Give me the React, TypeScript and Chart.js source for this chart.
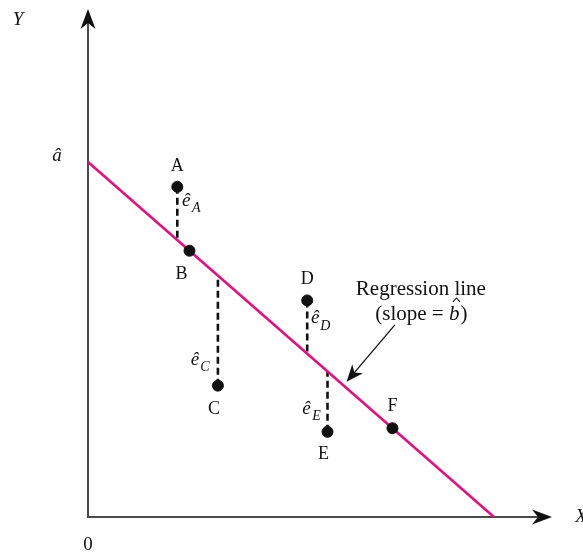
import React, { useEffect, useRef } from "react";
import { Chart, registerables } from "chart.js";

Chart.register(...registerables);

// ---- data ----
const pointNames = ["A", "B", "C", "D", "E", "F"];
const xValues = [2.2, 2.5, 3.2, 5.4, 5.9, 7.5];
const yValues = [9.3, 7.5, 3.7, 6.1, 2.4, 2.5];
const interceptA = 10; // â
const slopeB = -1; // b̂
const lineX = [0, 10];
const residualPoints = ["A", "C", "D", "E"];
const xAxisMax = 11.43;
const yAxisMax = 14.28;

// ---- styles / label placement (pixels) ----
const MAGENTA = "#e5107e";
const AXIS = "#4a4a4a";
const SERIF = "'Liberation Serif', 'Times New Roman', serif";
const nameOffsets: Record<string, [number, number]> = {
  A: [0, -21],
  B: [-8, 24],
  C: [-4, 24],
  D: [0, -21],
  E: [-4, 22],
  F: [0, -22],
};
const residOffsets: Record<string, [number, number]> = {
  A: [9, 14],
  C: [-23, -26],
  D: [8, 18],
  E: [-21, -23],
};
// annotation in data units
const annTextX = 8.2;
const annLine1Y = 6.42;
const annLine2Y = 5.69;
const annTail = { x: 7.56, y: 5.41 };
const annTip = { x: 6.37, y: 3.81 };

function fitted(x: number) {
  return interceptA + slopeB * x;
}

function drawArrowHead(
  ctx: CanvasRenderingContext2D,
  tx: number,
  ty: number,
  angle: number,
  len: number,
  half: number,
  notch: number
) {
  ctx.save();
  ctx.translate(tx, ty);
  ctx.rotate(angle);
  ctx.beginPath();
  ctx.moveTo(0, 0);
  ctx.lineTo(-len, -half);
  ctx.lineTo(-len + notch, 0);
  ctx.lineTo(-len, half);
  ctx.closePath();
  ctx.fill();
  ctx.restore();
}

const diagramPlugin = {
  id: "diagram",
  beforeDatasetsDraw(chart: any) {
    const ctx: CanvasRenderingContext2D = chart.ctx;
    const xs = chart.scales.x;
    const ys = chart.scales.y;
    const x0 = xs.getPixelForValue(0);
    const y0 = ys.getPixelForValue(0);
    const xEnd = xs.getPixelForValue(xAxisMax);
    const yEnd = ys.getPixelForValue(yAxisMax);
    ctx.save();
    ctx.strokeStyle = AXIS;
    ctx.fillStyle = "#111";
    ctx.lineWidth = 2;
    ctx.beginPath();
    ctx.moveTo(x0, yEnd + 10);
    ctx.lineTo(x0, y0);
    ctx.lineTo(xEnd - 10, y0);
    ctx.stroke();
    drawArrowHead(ctx, x0, yEnd - 1, -Math.PI / 2, 20, 7.5, 6);
    drawArrowHead(ctx, xEnd, y0, 0, 20, 7.5, 6);
    ctx.restore();
  },
  afterDatasetsDraw(chart: any) {
    const ctx: CanvasRenderingContext2D = chart.ctx;
    const xs = chart.scales.x;
    const ys = chart.scales.y;
    const x0 = xs.getPixelForValue(0);
    const y0 = ys.getPixelForValue(0);
    ctx.save();
    ctx.fillStyle = "#111";
    ctx.textAlign = "center";
    ctx.textBaseline = "middle";

    // axis labels
    ctx.font = `italic 19px ${SERIF}`;
    ctx.fillText("Y", 18, 20);
    ctx.fillText("X", xs.getPixelForValue(xAxisMax) + 29, y0);
    ctx.fillText("â", x0 - 31, ys.getPixelForValue(interceptA) - 6);
    ctx.font = `19px ${SERIF}`;
    ctx.fillText("0", x0, y0 + 28);

    // point names
    ctx.font = `18px ${SERIF}`;
    pointNames.forEach((n, i) => {
      const px = xs.getPixelForValue(xValues[i]);
      const py = ys.getPixelForValue(yValues[i]);
      const [dx, dy] = nameOffsets[n];
      ctx.fillText(n, px + dx, py + dy);
    });

    // residual labels ê_X
    residualPoints.forEach((n) => {
      const i = pointNames.indexOf(n);
      const px = xs.getPixelForValue(xValues[i]);
      const py = ys.getPixelForValue(yValues[i]);
      const [dx, dy] = residOffsets[n];
      ctx.font = `italic 19px ${SERIF}`;
      ctx.fillText("ê", px + dx, py + dy);
      ctx.font = `italic 14px ${SERIF}`;
      ctx.fillText(n, px + dx + 10, py + dy + 8);
    });

    // annotation
    const tx = xs.getPixelForValue(annTextX);
    ctx.font = `21px ${SERIF}`;
    ctx.fillText("Regression line", tx, ys.getPixelForValue(annLine1Y));
    const l2y = ys.getPixelForValue(annLine2Y);
    const s1 = "(slope = ";
    const s3 = ")";
    ctx.font = `21px ${SERIF}`;
    const w1 = ctx.measureText(s1).width;
    const w3 = ctx.measureText(s3).width;
    ctx.font = `italic 21px ${SERIF}`;
    const w2 = ctx.measureText("b").width;
    const total = w1 + w2 + w3;
    let cx = tx - total / 2;
    ctx.textAlign = "left";
    ctx.font = `21px ${SERIF}`;
    ctx.fillText(s1, cx, l2y);
    cx += w1;
    ctx.font = `italic 21px ${SERIF}`;
    ctx.fillText("b", cx, l2y);
    // circumflex over b
    ctx.strokeStyle = "#111";
    ctx.lineWidth = 1.1;
    ctx.beginPath();
    ctx.moveTo(cx + 4, l2y - 13);
    ctx.lineTo(cx + 7.5, l2y - 17);
    ctx.lineTo(cx + 11, l2y - 13);
    ctx.stroke();
    cx += w2 + 1;
    ctx.font = `21px ${SERIF}`;
    ctx.fillText(s3, cx, l2y);

    const ax1 = xs.getPixelForValue(annTail.x);
    const ay1 = ys.getPixelForValue(annTail.y);
    const ax2 = xs.getPixelForValue(annTip.x);
    const ay2 = ys.getPixelForValue(annTip.y);
    const ang = Math.atan2(ay2 - ay1, ax2 - ax1);
    ctx.lineWidth = 1.3;
    ctx.beginPath();
    ctx.moveTo(ax1, ay1);
    ctx.lineTo(ax2 - Math.cos(ang) * 10, ay2 - Math.sin(ang) * 10);
    ctx.stroke();
    drawArrowHead(ctx, ax2, ay2, ang, 17, 7, 5);
    ctx.restore();
  },
};

export default function App() {
  const ref = useRef<HTMLCanvasElement | null>(null);
  useEffect(() => {
    if (!ref.current) return;
    const residualSets = residualPoints.map((n) => {
      const i = pointNames.indexOf(n);
      return {
        type: "line" as const,
        label: `resid ${n}`,
        data: [
          { x: xValues[i], y: yValues[i] },
          { x: xValues[i], y: fitted(xValues[i]) },
        ],
        borderColor: "#111",
        borderWidth: 2.6,
        borderDash: [7, 4],
        pointRadius: 0,
        fill: false,
        clip: false as any,
        order: 3,
      };
    });
    const chart = new Chart(ref.current, {
      type: "scatter",
      data: {
        datasets: [
          {
            type: "line",
            label: "Regression line",
            data: lineX.map((x) => ({ x, y: fitted(x) })),
            borderColor: MAGENTA,
            borderWidth: 2.6,
            pointRadius: 0,
            fill: false,
            clip: false as any,
            order: 2,
          } as any,
          ...residualSets,
          {
            type: "scatter",
            label: "Observations",
            data: xValues.map((x, i) => ({ x, y: yValues[i] })),
            backgroundColor: "#111",
            borderColor: "#111",
            pointRadius: 5.5,
            pointHoverRadius: 5.5,
            clip: false as any,
            order: 1,
          } as any,
        ],
      },
      options: {
        animation: false,
        responsive: false,
        maintainAspectRatio: false,
        events: [],
        layout: { padding: { left: 88, right: 31, top: 10, bottom: 35 } },
        plugins: {
          legend: { display: false },
          tooltip: { enabled: false },
        },
        scales: {
          x: { type: "linear", min: 0, max: xAxisMax, display: false },
          y: { type: "linear", min: 0, max: yAxisMax, display: false },
        },
      },
      plugins: [diagramPlugin],
    });
    return () => chart.destroy();
  }, []);
  return (
    <div style={{ position: "fixed", left: 0, top: 0, width: 583, height: 552, background: "#fff" }}>
      <canvas ref={ref} width={583} height={552} style={{ width: 583, height: 552 }} />
    </div>
  );
}
